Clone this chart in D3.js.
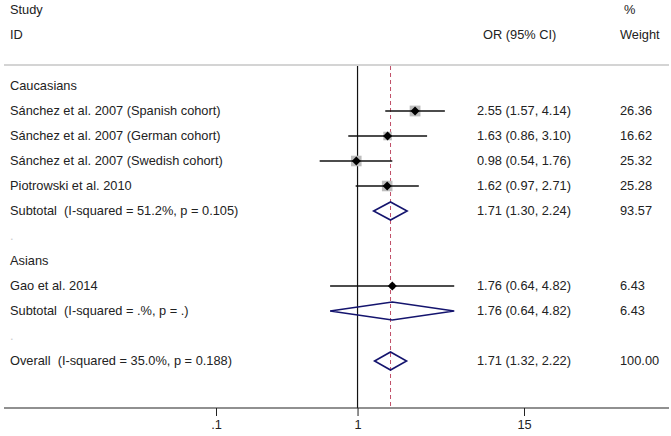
<!DOCTYPE html>
<html>
<head>
<meta charset="utf-8">
<script src="https://cdn.jsdelivr.net/npm/d3@7"></script>
<style>
  body { margin: 0; background: #fff; }
  text { font-family: "Liberation Sans", Arial, sans-serif; font-size: 12.8px; fill: #222; white-space: pre; }
</style>
</head>
<body>
<div id="plot"></div>
<script>
// ---------- Data ---------- //
var rowLabels = ["Caucasians",
  "Sánchez et al. 2007 (Spanish cohort)",
  "Sánchez et al. 2007 (German cohort)",
  "Sánchez et al. 2007 (Swedish cohort)",
  "Piotrowski et al. 2010",
  "Subtotal  (I-squared = 51.2%, p = 0.105)",
  ".",
  "Asians",
  "Gao et al. 2014",
  "Subtotal  (I-squared = .%, p = .)",
  ".",
  "Overall  (I-squared = 35.0%, p = 0.188)"];
var rowTypes = ["group", "study", "study", "study", "study", "pooled", "blank",
                "group", "study", "pooled", "blank", "pooled"];
var orValues = [null, 2.55, 1.63, 0.98, 1.62, 1.71, null, null, 1.76, 1.76, null, 1.71];
var lower    = [null, 1.57, 0.86, 0.54, 0.97, 1.30, null, null, 0.64, 0.64, null, 1.32];
var upper    = [null, 4.14, 3.10, 1.76, 2.71, 2.24, null, null, 4.82, 4.82, null, 2.22];
var weights  = [null, 26.36, 16.62, 25.32, 25.28, 93.57, null, null, 6.43, 6.43, null, 100.00];
var overallOR = 1.71;
var tickValues = [0.1, 1, 15];
var tickLabels = [".1", "1", "15"];

var drawForest = function() {
  var width = 671, height = 436;
  var rowTop = 86, rowStep = 25;
  var axisY = 408, topLine = 65;

  var svg = d3.select("#plot").append("svg")
              .attr("width", width).attr("height", height);

  var x = d3.scaleLog().domain([0.1, 15]).range([216, 524]);
  var y = d3.scaleLinear().domain([0, 1]).range([rowTop, rowTop + rowStep]);

  // headers
  svg.append("text").attr("x", 10).attr("y", 14).text("Study");
  svg.append("text").attr("x", 10).attr("y", 39).text("ID");
  svg.append("text").attr("x", 483).attr("y", 39).text("OR (95% CI)");
  svg.append("text").attr("x", 624).attr("y", 14).text("%");
  svg.append("text").attr("x", 620).attr("y", 39).text("Weight");

  // separator line
  svg.append("line")
     .attr("x1", 4).attr("x2", 669).attr("y1", topLine).attr("y2", topLine)
     .attr("stroke", "#d4d4d4").attr("stroke-width", 2);

  // null line + overall dashed line
  svg.append("line")
     .attr("x1", x(1)).attr("x2", x(1)).attr("y1", topLine + 1).attr("y2", axisY)
     .attr("stroke", "#111").attr("stroke-width", 1.2);
  svg.append("line")
     .attr("x1", x(overallOR)).attr("x2", x(overallOR)).attr("y1", topLine + 1).attr("y2", axisY)
     .attr("stroke", "#c05068").attr("stroke-width", 1).attr("stroke-dasharray", "4,3");

  var rows = rowLabels.map(function(l, i) {
    return {label: l, type: rowTypes[i], or: orValues[i], lo: lower[i], hi: upper[i], w: weights[i], i: i};
  });

  // labels
  svg.append("g").selectAll("text")
     .data(rows).join("text")
     .attr("x", 10)
     .attr("y", d => y(d.i) + 4)
     .style("fill", d => d.type == "blank" ? "#ccc" : null)
     .text(d => d.label);

  var est = rows.filter(d => d.or != null);

  // numeric columns
  svg.append("g").selectAll("text")
     .data(est).join("text")
     .attr("x", 477).attr("y", d => y(d.i) + 4)
     .text(d => d.or.toFixed(2) + " (" + d.lo.toFixed(2) + ", " + d.hi.toFixed(2) + ")");
  svg.append("g").selectAll("text")
     .data(est).join("text")
     .attr("x", 620).attr("y", d => y(d.i) + 4)
     .text(d => d.w.toFixed(2));

  var studies = est.filter(d => d.type == "study");
  var boxSide = d => 2.1 * Math.sqrt(d.w);

  // weight boxes
  svg.append("g").selectAll("rect")
     .data(studies).join("rect")
     .attr("x", d => x(d.or) - boxSide(d) / 2)
     .attr("y", d => y(d.i) - boxSide(d) / 2)
     .attr("width", boxSide)
     .attr("height", boxSide)
     .attr("fill", "#bdbdbd");

  // CI lines
  svg.append("g").selectAll("line")
     .data(studies).join("line")
     .attr("x1", d => x(d.lo)).attr("x2", d => x(d.hi))
     .attr("y1", d => y(d.i)).attr("y2", d => y(d.i))
     .attr("stroke", "#111").attr("stroke-width", 1.4);

  // point estimates
  svg.append("g").selectAll("path")
     .data(studies).join("path")
     .attr("d", d => {
       var cx = x(d.or), cy = y(d.i), r = 4.5;
       return "M" + (cx - r) + "," + cy + "L" + cx + "," + (cy - r) + "L" + (cx + r) + "," + cy + "L" + cx + "," + (cy + r) + "Z";
     })
     .attr("fill", "#000");

  // pooled diamonds
  svg.append("g").selectAll("path")
     .data(est.filter(d => d.type == "pooled")).join("path")
     .attr("d", d => {
       var cy = y(d.i), h = 9;
       return "M" + x(d.lo) + "," + cy + "L" + x(d.or) + "," + (cy - h) + "L" + x(d.hi) + "," + cy + "L" + x(d.or) + "," + (cy + h) + "Z";
     })
     .attr("fill", "none").attr("stroke", "#14146e").attr("stroke-width", 1.6);

  // axis
  svg.append("line")
     .attr("x1", 4).attr("x2", 669).attr("y1", axisY).attr("y2", axisY)
     .attr("stroke", "#222").attr("stroke-width", 1.2);
  var axis = svg.append("g")
     .attr("transform", `translate(0,${axisY})`)
     .call(d3.axisBottom(x).tickValues(tickValues)
             .tickFormat((d, i) => tickLabels[i]).tickSize(8).tickPadding(4));
  axis.select(".domain").remove();
  axis.selectAll("line").attr("stroke", "#222");
  axis.selectAll("text").style("font-size", "12.8px").style("font-family", "Liberation Sans, Arial, sans-serif").attr("fill", "#222");
}

drawForest();
</script>
</body>
</html>
